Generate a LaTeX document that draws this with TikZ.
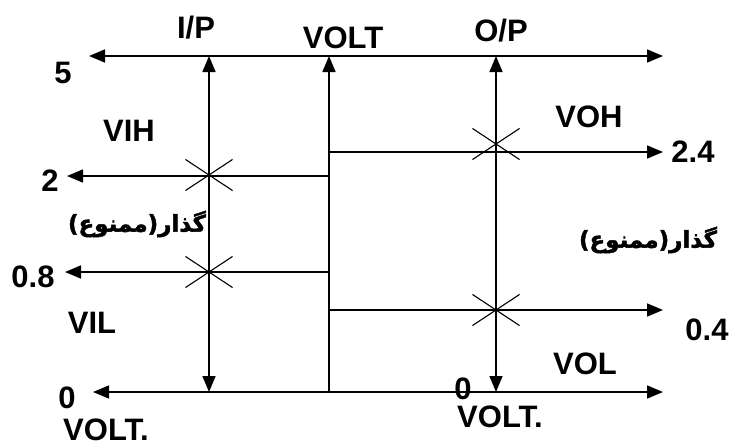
\documentclass[tikz,border=0pt]{standalone}
\usepackage{fontspec}
\setmainfont{Liberation Sans}
\newfontfamily\arabicfont[Script=Arabic, FakeBold=2]{DejaVu Sans}
\TeXXeTstate=1
\usetikzlibrary{arrows.meta,shapes.misc}
\tikzset{
  vlt/.style={x=1pt, y=-1pt, font=\fontsize{31}{34}\selectfont\bfseries},
  v line/.style={line width=1.6pt},
  v arr/.style={v line, -{Triangle[length=16pt, width=13pt]}},
  v both/.style={v line, {Triangle[length=16pt, width=13pt]}-{Triangle[length=16pt, width=13pt]}},
  v cross/.style={draw, cross out, line width=1.1pt, minimum width=46pt, minimum height=30pt, inner sep=0pt},
  v lab/.style={inner sep=0pt},
  v fa/.style={inner sep=0pt, font=\arabicfont\fontsize{23}{26}\selectfont\bfseries},
}

\begin{document}
\begin{tikzpicture}[vlt]
\useasboundingbox (0,0) rectangle (736,447);
% ---- axes ----
\coordinate (tl) at (89,56);   \coordinate (tr) at (663,56);
\coordinate (bl) at (93,392);  \coordinate (br) at (663,392);
\coordinate (ipt) at (209,56); \coordinate (ipb) at (209,392);
\coordinate (vt) at (329,56);  \coordinate (vb) at (329,392);
\coordinate (opt) at (496,56); \coordinate (opb) at (496,392);
\draw[v both] (tl) -- (tr);
\draw[v both] (bl) -- (br);
\draw[v both] (ipb) -- (ipt);
\draw[v arr]  (vb) -- (vt);
\draw[v both] (opb) -- (opt);
% ---- levels ----
\coordinate (h2m) at (329,176);  \coordinate (h2) at (67,176);
\coordinate (h08m) at (329,272); \coordinate (h08) at (65,272);
\coordinate (h24m) at (329,152); \coordinate (h24) at (663,152);
\coordinate (h04m) at (329,310); \coordinate (h04) at (663,310);
\draw[v arr] (h2m) -- (h2);   \draw[v arr] (h08m) -- (h08);
\draw[v arr] (h24m) -- (h24); \draw[v arr] (h04m) -- (h04);
% ---- crossings ----
\node[v cross] (xih) at (209,175) {};
\node[v cross] (xil) at (209,272) {};
\node[v cross] (xoh) at (496,144) {};
\node[v cross] (xol) at (496,310) {};
% ---- labels ----
\node[v lab] (lip)  at (196,28)  {I/P};
\node[v lab] (lvt)  at (343,38)  {VOLT};
\node[v lab] (lop)  at (501,31)  {O/P};
\node[v lab] (l5)   at (63,73)   {5};
\node[v lab] (lvih) at (129,131) {VIH};
\node[v lab] (l2)   at (50,181)  {2};
\node[v lab] (l08)  at (33,277)  {0.8};
\node[v lab] (lvil) at (92,323)  {VIL};
\node[v lab] (l0a)  at (67,398)  {0};
\node[v lab] (lva)  at (106,430) {VOLT.};
\node[v lab] (lvoh) at (589,117) {VOH};
\node[v lab] (l24)  at (693,152) {2.4};
\node[v lab] (l04)  at (707,330) {0.4};
\node[v lab] (lvol) at (585,364) {VOL};
\node[v lab] (l0b)  at (463,389) {0};
\node[v lab] (lvb)  at (500,417) {VOLT.};
\node[v fa] (fai) at (137,224) {\beginR گذار(ممنوع)\endR};
\node[v fa] (fao) at (648,240) {\beginR گذار(ممنوع)\endR};
\end{tikzpicture}
\end{document}
